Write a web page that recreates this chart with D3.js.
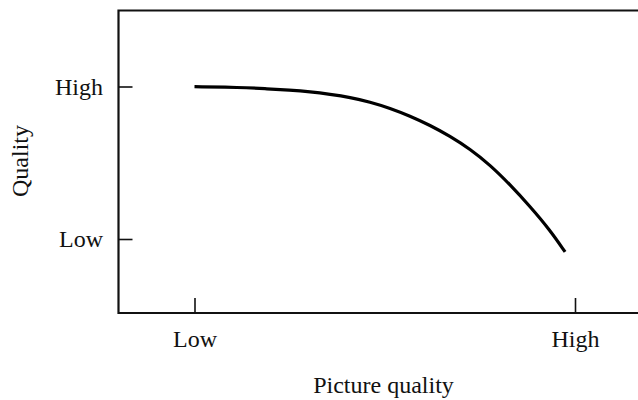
<!DOCTYPE html>
<html>
<head>
<meta charset="utf-8">
<script src="https://cdn.jsdelivr.net/npm/d3@7"></script>
<style>
  html, body { margin: 0; padding: 0; background: #fff; }
  svg { display: block; }
  text { font-family: "Liberation Serif", "Times New Roman", serif; fill: #111; }
</style>
</head>
<body>
<svg id="chart" width="638" height="400"></svg>
<script>
// Data
const xTickValues = [0, 1];
const xTickLabels = ["Low", "High"];
const yTickValues = [0, 1];
const yTickLabels = ["Low", "High"];
const curveX = [0.0, 0.120, 0.185, 0.251, 0.304, 0.356, 0.409, 0.461, 0.514, 0.566, 0.619, 0.671, 0.724, 0.777, 0.829, 0.882, 0.934, 0.974];
const curveY = [0.999, 0.994, 0.986, 0.976, 0.965, 0.949, 0.929, 0.899, 0.858, 0.807, 0.746, 0.675, 0.590, 0.485, 0.357, 0.213, 0.059, -0.085];
const xTitle = "Picture quality";
const yTitle = "Quality";

const svg = d3.select("#chart");
const frame = { left: 118.5, top: 10.5, bottom: 313 };
const font = "'Liberation Serif', 'Times New Roman', serif";

const x = d3.scaleLinear().domain([0, 1]).range([194.5, 575]);
const y = d3.scaleLinear().domain([0, 1]).range([239, 86.5]);

// Frame (left, top, bottom; right side beyond canvas)
svg.append("path")
  .attr("d", `M660,${frame.top}H${frame.left}V${frame.bottom}H660`)
  .attr("fill", "none").attr("stroke", "#111").attr("stroke-width", 2.2);

// X axis
const xAxis = d3.axisBottom(x)
  .tickValues(xTickValues)
  .tickFormat((d, i) => xTickLabels[i])
  .tickSizeInner(-15).tickSizeOuter(0).tickPadding(17);
const gx = svg.append("g").attr("transform", `translate(0,${frame.bottom})`).call(xAxis);
gx.select(".domain").remove();
gx.selectAll(".tick line").attr("stroke", "#111").attr("stroke-width", 1.6);
gx.selectAll(".tick text").style("font-size", "24px")
  .style("font-family", font).attr("fill", "#111");

// Y axis
const yAxis = d3.axisLeft(y)
  .tickValues(yTickValues)
  .tickFormat((d, i) => yTickLabels[i])
  .tickSizeInner(-14).tickSizeOuter(0).tickPadding(15.5);
const gy = svg.append("g").attr("transform", `translate(${frame.left},0)`).call(yAxis);
gy.select(".domain").remove();
gy.selectAll(".tick line").attr("stroke", "#111").attr("stroke-width", 1.6);
gy.selectAll(".tick text").style("font-size", "24px")
  .style("font-family", font).attr("fill", "#111");

// Curve
const pts = curveX.map((v, i) => [v, curveY[i]]);
const line = d3.line().x(d => x(d[0])).y(d => y(d[1])).curve(d3.curveBasis);
svg.append("path").datum(pts)
  .attr("d", line)
  .attr("fill", "none").attr("stroke", "#000").attr("stroke-width", 3.2)
  .attr("stroke-linecap", "butt");

// Titles
svg.append("text").attr("x", 383.5).attr("y", 393)
  .attr("text-anchor", "middle").style("font-size", "24px").text(xTitle);
svg.append("text").attr("transform", "translate(28,161) rotate(-90)")
  .attr("text-anchor", "middle").style("font-size", "24px").text(yTitle);
</script>
</body>
</html>
